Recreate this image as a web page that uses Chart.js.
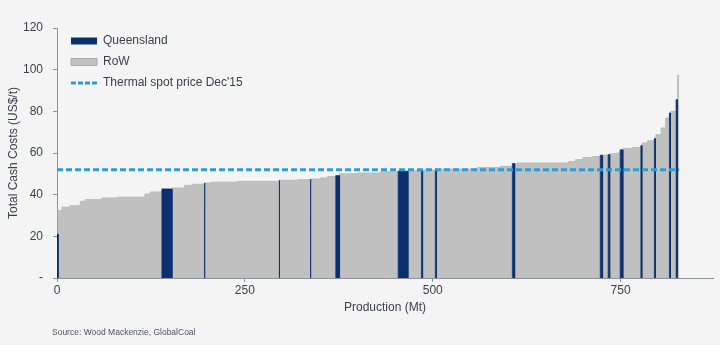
<!DOCTYPE html>
<html>
<head>
<meta charset="utf-8">
<script src="https://cdn.jsdelivr.net/npm/chart.js@4.4.0/dist/chart.umd.min.js"></script>
<style>
  html, body { margin: 0; padding: 0; background: #f4f4f4; }
  #wrap { width: 720px; height: 345px; position: relative; }
</style>
</head>
<body>
<div id="wrap"><canvas id="costChart"></canvas></div>
<script>
// cost curve: start of each step (cumulative Mt) and its cash cost (US$/t)
const rowStart = [0, 1.5, 6.6, 17.7, 31, 37.6, 60, 80, 117, 124, 139.6, 153, 170, 180, 196, 205, 240, 295, 320, 337, 350, 360, 371, 376, 400, 430, 454, 467, 485, 510, 560, 590, 606, 612, 680, 690, 700, 712, 723, 726, 733.5, 736, 745, 749.5, 753, 765, 777, 779, 786, 795, 797, 804, 810, 815, 817, 824, 826];
const rowCost  = [21, 32.3, 34, 34.7, 36.8, 37.6, 38.4, 38.8, 40.3, 41.3, 42.7, 43.2, 44.5, 45, 45.6, 46, 46.4, 46.9, 47.2, 47.5, 48, 48.7, 49.1, 50, 50.4, 51, 51.2, 51.5, 51.7, 52.3, 53, 53.6, 54.9, 55.2, 55.8, 56.8, 57.8, 58.3, 58.9, 59, 59.2, 59.6, 60, 61.5, 62.2, 62.6, 63.5, 64.8, 65.9, 66.9, 68.8, 72, 76.8, 79.2, 80, 85.6, 97.3];
const totalProduction = 828;

// Queensland mines within the curve
const qldStart = [0, 139.6, 196, 295.5, 337, 371, 454, 485, 503.5, 606, 723, 733.5, 749.5, 777, 795, 815, 824];
const qldEnd   = [1.5, 153, 196.8, 296.3, 337.8, 376, 467, 486.5, 505, 609, 726, 735.5, 753, 778.3, 796.3, 816.3, 825.5];
const qldCost  = [21, 42.7, 45.6, 46.9, 47.5, 49.1, 51.2, 51.7, 52.3, 54.9, 58.9, 59.2, 61.5, 63.5, 66.9, 79.2, 85.6];

const spotPrice = 52;
const xTicks = [0, 250, 500, 750];
const yTicks = [0, 20, 40, 60, 80, 100, 120];

const navy = '#0b2f6d';
const grey = '#c0c0c0';
const spotBlue = '#2b9fd3';
const textCol = '#3a414e';
const axisCol = '#8c919a';

const rowPoints = rowStart.map((x, i) => ({x: x, y: rowCost[i]}));
rowPoints.push({x: totalProduction, y: rowCost[rowCost.length - 1]});

const qldPoints = [];
qldStart.forEach((s, i) => {
  qldPoints.push({x: s, y: 0}, {x: s, y: qldCost[i]}, {x: qldEnd[i], y: qldCost[i]}, {x: qldEnd[i], y: 0}, {x: qldEnd[i], y: null});
});

const sourcePlugin = {
  id: 'source',
  afterDraw(chart) {
    const ctx = chart.ctx;
    ctx.save();
    ctx.font = '8.5px "Liberation Sans", Arial, sans-serif';
    ctx.fillStyle = '#4a5262';
    ctx.textBaseline = 'middle';
    ctx.fillText('Source: Wood Mackenzie, GlobalCoal', 52, 333);
    ctx.restore();
  }
};

// nudge the in-plot legend to where the original has it
const legendShift = {
  id: 'legendShift',
  beforeDraw(chart) {
    const lg = chart.legend;
    if (lg) { lg.left = chart.chartArea.left + 5; lg.top = chart.chartArea.top - 2; }
  }
};

Chart.defaults.font.family = '"Liberation Sans", Arial, sans-serif';
Chart.defaults.font.size = 12;
Chart.defaults.color = textCol;

new Chart(document.getElementById('costChart'), {
  type: 'line',
  data: {
    datasets: [
      {
        label: "Thermal spot price Dec'15",
        data: [{x: 0, y: spotPrice}, {x: totalProduction, y: spotPrice}],
        borderColor: spotBlue,
        borderWidth: 3,
        borderDash: [6, 3],
        pointRadius: 0,
        fill: false
      },
      {
        label: 'Queensland',
        data: qldPoints,
        borderColor: navy,
        backgroundColor: navy,
        borderWidth: 0.8,
        pointRadius: 0,
        spanGaps: false,
        fill: 'origin'
      },
      {
        label: 'RoW',
        data: rowPoints,
        stepped: 'before',
        borderColor: '#bababa',
        backgroundColor: grey,
        borderWidth: 1,
        pointRadius: 0,
        fill: 'origin'
      }
    ]
  },
  options: {
    responsive: true,
    maintainAspectRatio: false,
    animation: false,
    layout: { padding: { left: 0, right: 7, top: 28, bottom: 0 } },
    plugins: {
      tooltip: { enabled: false },
      legend: {
        position: 'chartArea',
        align: 'start',
        labels: {
          usePointStyle: true,
          pointStyleWidth: 26,
          boxHeight: 7,
          padding: 9,
          color: textCol,
          font: { size: 12 },
          generateLabels: () => [
            { text: 'Queensland', pointStyle: 'rect', fillStyle: navy, strokeStyle: navy, lineWidth: 0, fontColor: textCol },
            { text: 'RoW', pointStyle: 'rect', fillStyle: grey, strokeStyle: '#a9a9a9', lineWidth: 1, fontColor: textCol },
            { text: "Thermal spot price Dec'15", pointStyle: 'line', fillStyle: spotBlue, strokeStyle: spotBlue, lineWidth: 3, lineDash: [5, 2], fontColor: textCol }
          ]
        }
      }
    },
    scales: {
      x: {
        type: 'linear',
        min: 0,
        max: 873,
        afterBuildTicks: (s) => { s.ticks = xTicks.map(v => ({value: v})); },
        afterFit: (s) => { s.height = 67; },
        border: { color: axisCol, width: 1 },
        grid: { display: true, drawOnChartArea: false, drawTicks: true, tickLength: 4, color: axisCol },
        ticks: { padding: 1, color: textCol, maxRotation: 0 },
        title: { display: true, text: 'Production (Mt)', color: textCol, font: { size: 12 }, padding: { top: 0, bottom: 30 } }
      },
      y: {
        min: 0,
        max: 120,
        afterBuildTicks: (s) => { s.ticks = yTicks.map(v => ({value: v})); },
        afterFit: (s) => { s.width = 57; },
        border: { color: axisCol, width: 1 },
        grid: { display: true, drawOnChartArea: false, drawTicks: true, tickLength: 4, color: axisCol },
        ticks: { padding: 10, color: textCol, callback: (v) => v === 0 ? '-' : v },
        title: { display: true, text: 'Total Cash Costs (US$/t)', color: textCol, font: { size: 12 }, padding: { top: 6, bottom: 0 } }
      }
    }
  },
  plugins: [sourcePlugin, legendShift]
});
</script>
</body>
</html>
